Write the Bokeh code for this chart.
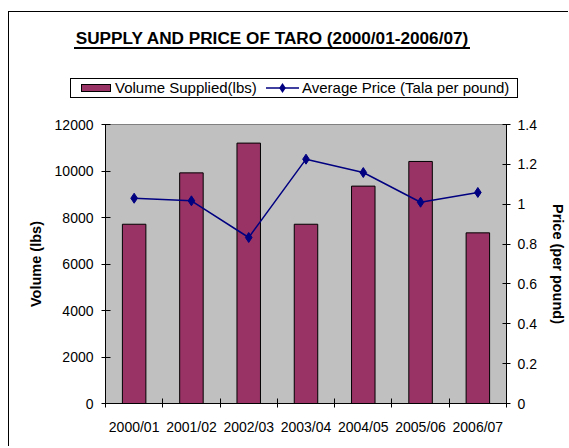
from bokeh.plotting import figure
from bokeh.layouts import column
from bokeh.models import (Range1d, LinearAxis, FixedTicker, Div, PrintfTickFormatter)
from bokeh.embed import file_html
from bokeh.resources import INLINE

# ---- data ----
seasons = ["2000/01", "2001/02", "2002/03", "2003/04", "2004/05", "2005/06", "2006/07"]
volume = [7710, 9920, 11200, 7710, 9350, 10410, 7340]
price = [1.03, 1.017, 0.833, 1.226, 1.159, 1.01, 1.059]
volume_ticks = [0, 2000, 4000, 6000, 8000, 10000, 12000]
price_ticks = [0, 0.2, 0.4, 0.6, 0.8, 1.0, 1.2, 1.4]
title_text = "SUPPLY AND PRICE OF TARO (2000/01-2006/07)"
series_names = ["Volume Supplied(lbs)", "Average Price (Tala per pound)"]

FONT = "Liberation Sans"
BAR_COLOR = "#993366"
LINE_COLOR = "#000080"
pos = [i + 0.5 for i in range(len(seasons))]
bounds = list(range(len(seasons) + 1))

W = 568
HEAD_H = 110
H = 446 - HEAD_H

# ---------------- header: title + legend (HTML) ----------------
head_html = f"""<div style="position:relative;width:{W}px;height:{HEAD_H}px;font-family:'{FONT}',Arial,sans-serif;color:#000;">
  <div style="position:absolute;left:0;top:28px;width:544px;text-align:center;white-space:nowrap;
              font-weight:bold;font-size:17.2px;line-height:20px;">{title_text}</div>
  <div style="position:absolute;left:70px;top:78px;width:448px;height:20px;box-sizing:border-box;
              border:1px solid #000;background:#fff;"></div>
  <div style="position:absolute;left:81px;top:84px;width:30px;height:8px;box-sizing:border-box;
              border:1px solid #000;background:{BAR_COLOR};"></div>
  <div style="position:absolute;left:115px;top:78px;line-height:20px;font-size:15px;white-space:nowrap;">{series_names[0]}</div>
  <svg style="position:absolute;left:266px;top:83px;" width="33" height="10">
    <line x1="0" y1="5" x2="33" y2="5" stroke="{LINE_COLOR}" stroke-width="1.5"/>
    <polygon points="16.5,0 19.8,5 16.5,10 13.2,5" fill="{LINE_COLOR}"/>
  </svg>
  <div style="position:absolute;left:302px;top:78px;line-height:20px;font-size:15px;white-space:nowrap;">{series_names[1]}</div>
</div>"""
head = Div(text=head_html, width=W, height=HEAD_H, margin=0)

# ---------------- chart ----------------
p = figure(width=W, height=H, output_backend="svg", toolbar_location=None,
           x_range=Range1d(0, len(seasons)), y_range=Range1d(0, 12000),
           x_axis_type=None, y_axis_type=None,
           min_border_left=105, min_border_right=W - 506,
           min_border_top=124 - HEAD_H, min_border_bottom=HEAD_H + H - 403)
p.extra_y_ranges = {"price": Range1d(0, 1.4)}
p.grid.visible = False
p.border_fill_alpha = 0
p.background_fill_color = "#C0C0C0"
p.outline_line_color = "#808080"
p.outline_line_width = 1


def style_axis(ax):
    ax.axis_line_color = "black"
    ax.major_tick_line_color = "black"
    ax.minor_tick_line_color = "black"
    ax.major_label_text_font = FONT
    ax.major_label_text_font_size = "14px"
    ax.major_label_text_color = "black"
    ax.axis_label_text_font = FONT
    ax.axis_label_text_font_size = "14.5px"
    ax.axis_label_text_font_style = "bold"
    ax.axis_label_text_color = "black"


xax = LinearAxis(ticker=FixedTicker(ticks=pos, minor_ticks=bounds))
xax.major_label_overrides = {pos[i]: seasons[i] for i in range(len(seasons))}
style_axis(xax)
xax.major_tick_in = 0
xax.major_tick_out = 0
xax.minor_tick_in = 5
xax.minor_tick_out = 4
xax.major_label_standoff = 11
p.add_layout(xax, "below")

yax = LinearAxis(ticker=FixedTicker(ticks=volume_ticks, minor_ticks=[]), axis_label="Volume (lbs)")
style_axis(yax)
yax.major_tick_in = 5
yax.major_tick_out = 4
yax.major_label_standoff = 8
yax.axis_label_standoff = 8
p.add_layout(yax, "left")

y2 = LinearAxis(y_range_name="price", ticker=FixedTicker(ticks=price_ticks, minor_ticks=[]),
                formatter=PrintfTickFormatter(format="%g"), axis_label="Price (per pound)")
style_axis(y2)
y2.major_tick_in = 4
y2.major_tick_out = 4
y2.major_label_standoff = 7
y2.axis_label_standoff = 10
p.add_layout(y2, "right")

p.vbar(x=pos, top=volume, width=0.41, fill_color=BAR_COLOR,
       line_color="black", line_width=1)
p.line(x=pos, y=price, y_range_name="price", line_color=LINE_COLOR, line_width=1.5)
p.scatter(x=pos, y=price, y_range_name="price", marker="diamond", size=10,
          fill_color=LINE_COLOR, line_color=LINE_COLOR)

layout = column(head, p, spacing=0, styles={"background": (
    "linear-gradient(#000,#000) 8px 11px / 1px 100% no-repeat, "
    "linear-gradient(#000,#000) 8px 11px / 100% 1px no-repeat, "
    "linear-gradient(#000,#000) 74px 47px / 396px 2px no-repeat, #ffffff")})

open("out.html", "w").write(file_html(layout, INLINE))
